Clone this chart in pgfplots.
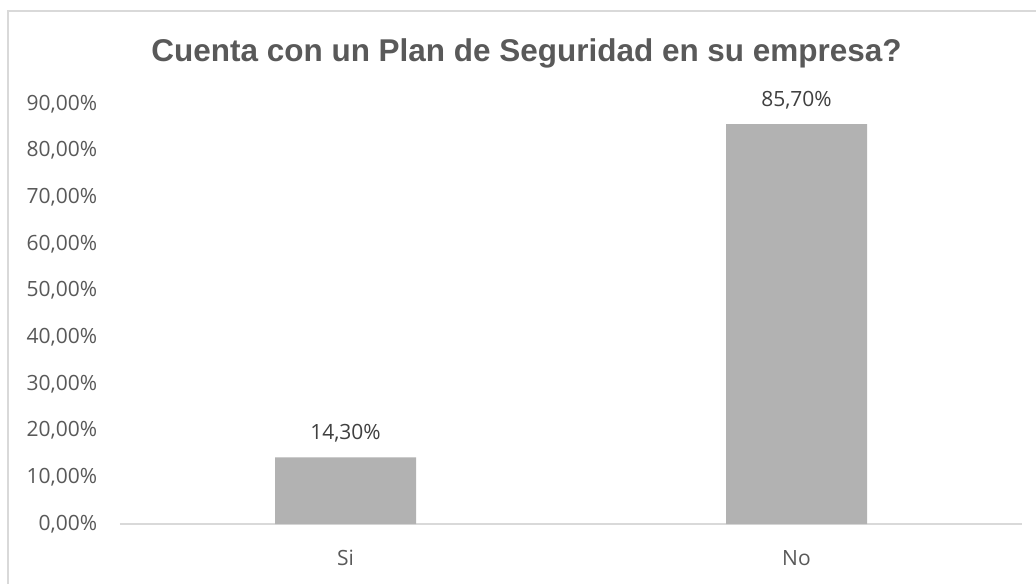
\documentclass[border=0pt]{standalone}
\usepackage{pgfplots}
\pgfplotsset{compat=1.18}
\usepackage{fontspec}
\setmainfont{Open Sans}
\newfontfamily\titlefont{Liberation Sans}
\definecolor{txt}{HTML}{595959}
\definecolor{lbl}{HTML}{404040}
\definecolor{barc}{HTML}{B2B2B2}
\definecolor{linec}{HTML}{D9D9D9}
\begin{document}
\begin{tikzpicture}
\useasboundingbox[fill=white] (0,0) rectangle (777pt,437.25pt);
\draw[linec, line width=1.1pt] (6pt,-10pt) -- (6pt,429pt) -- (800pt,429pt);
\node[anchor=base, inner sep=0pt, text=txt, font=\titlefont\bfseries\fontsize{23.6pt}{28pt}\selectfont] at (394.9pt,390.75pt) {Cuenta con un Plan de Seguridad en su empresa?};
\begin{axis}[
  at={(90pt,44.25pt)}, anchor=south west,
  scale only axis, width=676.5pt, height=315pt,
  xmin=-0.5, xmax=1.5, ymin=0, ymax=90,
  axis x line=bottom, axis y line=left,
  x axis line style={draw=linec, line width=1.1pt, -},
  y axis line style={draw=none},
  xtick={0,1}, xticklabels={Si,No},
  ytick={0,10,...,90},
  major tick length=0pt,
  tick style={draw=none},
  /pgf/number format/assume math mode=true,
  yticklabel={\pgfmathprintnumber[fixed,fixed zerofill,precision=2,use comma]{\tick}\%},
  yticklabel style={anchor=east, inner sep=0pt, xshift=-17pt, text=txt, font=\fontsize{15.75pt}{18pt}\selectfont},
  xticklabel style={anchor=base, inner sep=0pt, yshift=-30.75pt, text=txt, font=\fontsize{15.75pt}{18pt}\selectfont},
  ybar, bar width=105.75pt,
  nodes near coords={\pgfmathprintnumber[fixed,fixed zerofill,precision=2,use comma]{\pgfplotspointmeta}\%},
  every node near coord/.append style={anchor=base, inner sep=0pt, yshift=13.5pt, text=lbl, font=\fontsize{15.75pt}{18pt}\selectfont},
  clip=false,
]
\addplot[fill=barc, draw=none] coordinates {(0,14.3) (1,85.7)};
\end{axis}
\end{tikzpicture}
\end{document}
